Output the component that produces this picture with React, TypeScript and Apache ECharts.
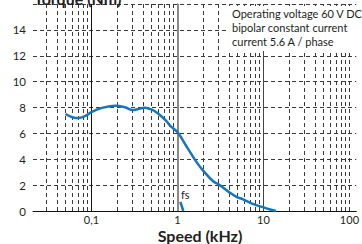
import React, { useEffect, useRef } from "react";
import * as echarts from "echarts";

const speedKHz = [0.05, 0.06, 0.07, 0.085, 0.1, 0.13, 0.19, 0.25, 0.3, 0.35, 0.42, 0.5, 0.59, 0.73, 0.85, 1.0, 1.3, 1.7, 2.0, 2.6, 3.1, 4.0, 4.85, 5.8, 7.5, 9.8, 12, 14];
const torqueNm = [7.5, 7.25, 7.18, 7.35, 7.65, 7.95, 8.14, 8.0, 7.8, 7.88, 7.99, 7.85, 7.55, 7.0, 6.5, 6.1, 4.9, 3.7, 3.1, 2.3, 2.0, 1.45, 1.1, 0.9, 0.55, 0.3, 0.12, 0];
const fsSpeed = [1.08, 1.17];
const fsTorque = [0.7, 0];
const xTickValues = [0.1, 1, 10, 100];
const xTickLabels = ["0,1", "1", "10", "100"];
const minorGrid = [0.03, 0.04, 0.05, 0.06, 0.07, 0.08, 0.09, 0.2, 0.3, 0.4, 0.5, 0.6, 0.7, 0.8, 0.9, 2, 3, 4, 5, 6, 7, 8, 9, 20, 30, 40, 50, 60, 70, 80, 90, 100];
const noteLines = ["Operating voltage 60 V DC", "bipolar constant current", "current 5.6 A / phase"];

const FONT = "Lato, 'Noto Sans', sans-serif";

export default function App() {
  const ref = useRef<HTMLDivElement>(null);
  useEffect(() => {
    const chart = echarts.init(ref.current!, null, { renderer: "svg" });
    const lg = (v: number) => Math.log10(v);
    const dash = { color: "#3a3a3a", width: 1, type: [4, 3] as any };
    const gridLines: any[] = minorGrid.map((v) => ({ xAxis: lg(v), lineStyle: dash }));
    gridLines.push({ xAxis: lg(0.1), lineStyle: { color: "#111", width: 1, type: "solid" } });
    gridLines.push({ xAxis: lg(1), lineStyle: { color: "#8a8a8a", width: 2, type: "solid" } });
    gridLines.push({ xAxis: lg(10), lineStyle: { color: "#444", width: 1, type: "solid" } });
    const labelMap: Record<string, string> = {};
    xTickValues.forEach((v, i) => (labelMap[lg(v).toFixed(3)] = xTickLabels[i]));
    chart.setOption({
      animation: false,
      grid: { left: 33, right: 0, top: 4, bottom: 33, containLabel: false },
      xAxis: {
        type: "value",
        min: lg(0.0209),
        max: lg(120),
        axisLine: { show: true, lineStyle: { color: "#111", width: 1 } },
        axisTick: { show: false },
        splitLine: { show: false },
        axisLabel: {
          customValues: xTickValues.map(lg),
          formatter: (v: number) => labelMap[v.toFixed(3)] ?? "",
          color: "#231f20",
          fontSize: 11,
          fontFamily: FONT,
          margin: 3,
        },
      },
      yAxis: {
        type: "value",
        min: 0,
        max: 16,
        interval: 2,
        axisLine: { show: true, lineStyle: { color: "#111", width: 1 } },
        axisTick: { show: false },
        splitLine: { show: true, lineStyle: dash },
        axisLabel: {
          color: "#231f20",
          fontSize: 11.5,
          fontFamily: FONT,
          margin: 7,
          formatter: (v: number) => (v === 16 ? "" : String(v)),
        },
      },
      series: [
        {
          type: "line",
          data: [],
          z: 1,
          silent: true,
          markLine: { silent: true, symbol: "none", label: { show: false }, animation: false, data: gridLines },
        },
        {
          type: "line",
          z: 5,
          smooth: 0.4,
          showSymbol: false,
          lineStyle: { color: "#1676bd", width: 2.5 },
          data: speedKHz.map((s, i) => [lg(s), torqueNm[i]]),
        },
        {
          type: "line",
          z: 5,
          showSymbol: false,
          lineStyle: { color: "#1676bd", width: 2.5 },
          data: fsSpeed.map((s, i) => [lg(s), fsTorque[i]]),
        },
      ],
      graphic: [
        { type: "rect", z: 50, shape: { x: 229, y: 6, width: 133, height: 45 }, style: { fill: "#fff" } },
        ...noteLines.map((t, i) => ({
          type: "text",
          z: 51,
          x: 232,
          y: 8 + i * 14,
          style: { text: t, fill: "#231f20", font: `11px ${FONT}` },
        })),
        { type: "text", z: 51, x: 181, y: 189, style: { text: "fs", fill: "#231f20", font: `11px ${FONT}` } },
        { type: "text", z: 51, x: 34, y: -10, style: { text: "Torque (Nm)", fill: "#231f20", font: `bold 16px ${FONT}` } },
        { type: "text", z: 51, x: 200, y: 227, style: { text: "Speed (kHz)", fill: "#231f20", font: `bold 16px ${FONT}`, textAlign: "center" } },
      ],
    });
    return () => chart.dispose();
  }, []);
  return <div ref={ref} style={{ width: 362, height: 244, position: "absolute", left: 0, top: 0 }} />;
}
